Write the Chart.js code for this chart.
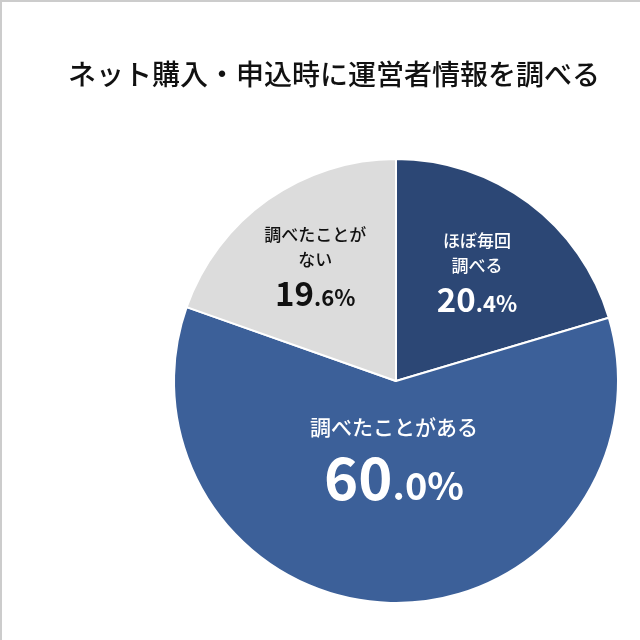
<!DOCTYPE html>
<html><head><meta charset="utf-8">
<script src="https://cdn.jsdelivr.net/npm/chart.js@4"></script>
<style>html,body{margin:0;padding:0;background:#fff}#wrap{position:relative;width:640px;height:640px;border-top:2px solid #ccc;border-left:2px solid #ccc;box-sizing:border-box;overflow:hidden}</style>
</head><body><div id="wrap"><canvas id="c" width="638" height="638"></canvas></div>
<script>
const titleText = "ネット購入・申込時に運営者情報を調べる";
const categories = ["ほぼ毎回調べる", "調べたことがある", "調べたことがない"];
const labelLines = [["ほぼ毎回", "調べる"], ["調べたことがある"], ["調べたことが", "ない"]];
const values = [20.4, 60.0, 19.6];
const colors = ["#2c4775", "#3c6099", "#dcdcdc"];
const textColors = ["#fff", "#fff", "#111"];
const F = '"Noto Sans CJK JP","Noto Sans",sans-serif';
const cfg = [
  {rf:0.61, lineSize:17, big:33, small:22, lh:25, gap:6},
  {rf:0.36, lineSize:21, big:58, small:38, lh:28, gap:10},
  {rf:0.63, lineSize:17, big:33, small:22, lh:25, gap:6}
];
const labelPlugin = {
  id:'lbl',
  afterDraw(chart){
    const ctx = chart.ctx;
    ctx.save();
    ctx.fillStyle = "#111";
    ctx.font = "500 28px " + F;
    ctx.textBaseline = "middle"; ctx.textAlign = "left";
    ctx.fillText(titleText, 66, 72);
    const meta = chart.getDatasetMeta(0);
    meta.data.forEach((arc, i) => {
      const c = cfg[i];
      const mid = (arc.startAngle + arc.endAngle) / 2;
      const r = arc.outerRadius * c.rf;
      const x = arc.x + Math.cos(mid) * r, y = arc.y + Math.sin(mid) * r;
      const lines = labelLines[i];
      const total = lines.length * c.lh + c.gap + c.big;
      let yy = y - total / 2 + c.lh / 2;
      ctx.fillStyle = textColors[i];
      ctx.textAlign = "center"; ctx.textBaseline = "middle";
      ctx.font = "500 " + c.lineSize + "px " + F;
      lines.forEach(l => { ctx.fillText(l, x, yy); yy += c.lh; });
      const s = values[i].toFixed(1);
      const [a, b] = s.split(".");
      const p1 = a, p2 = "." + b + "%";
      ctx.font = "bold " + c.big + "px " + F;
      const w1 = ctx.measureText(p1).width;
      ctx.font = "bold " + c.small + "px " + F;
      const w2 = ctx.measureText(p2).width;
      const base = yy - c.lh / 2 + c.gap + c.big * 0.85;
      ctx.textAlign = "left"; ctx.textBaseline = "alphabetic";
      const x0 = x - (w1 + w2) / 2;
      ctx.font = "bold " + c.big + "px " + F;
      ctx.fillText(p1, x0, base);
      ctx.font = "bold " + c.small + "px " + F;
      ctx.fillText(p2, x0 + w1, base);
    });
    ctx.restore();
  }
};
new Chart(document.getElementById('c'), {
  type:'pie',
  data:{labels:categories, datasets:[{data:values, backgroundColor:colors, borderColor:"#fff", borderWidth:2}]},
  options:{responsive:false, animation:false,
    layout:{padding:{left:171, right:21, top:156, bottom:36}},
    plugins:{legend:{display:false}, tooltip:{enabled:false}, title:{display:false}}},
  plugins:[labelPlugin]
});
</script></body></html>
